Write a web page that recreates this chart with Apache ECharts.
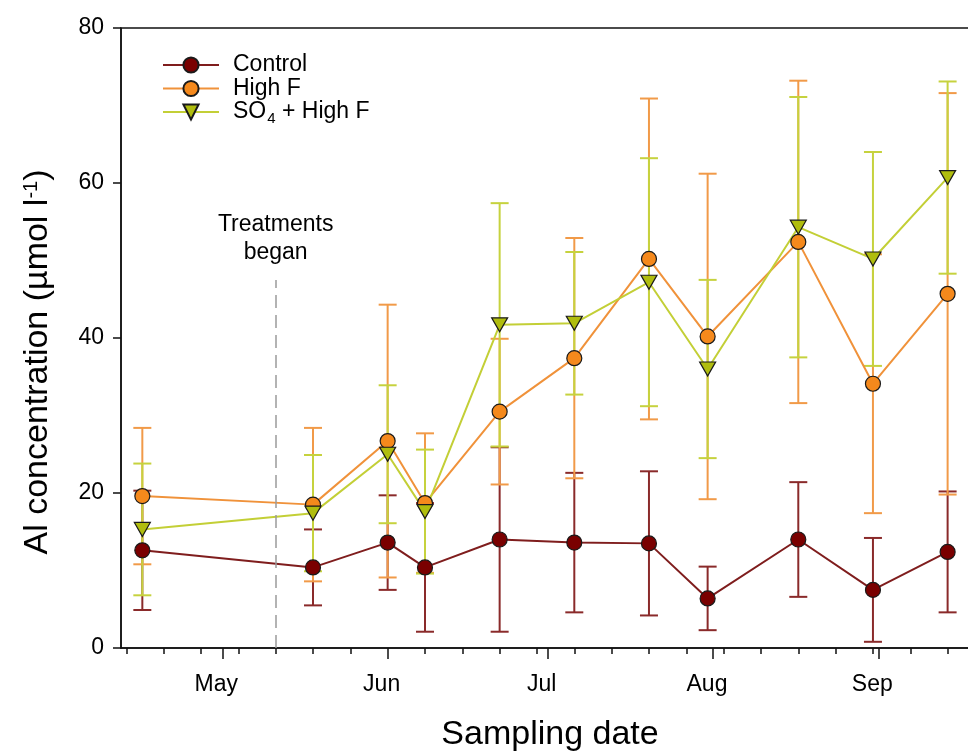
<!DOCTYPE html>
<html>
<head>
<meta charset="utf-8">
<script src="https://cdn.jsdelivr.net/npm/echarts@6/dist/echarts.min.js"></script>
<style>
  html, body { margin: 0; padding: 0; background: #fff; }
  #chart { width: 968px; height: 752px; }
</style>
</head>
<body>
<div id="chart"></div>
<script>
// Sampling dates (month-day) and treatment means with error bar half-widths
const sampleDates = ['04-16', '05-18', '06-01', '06-08', '06-22', '07-06', '07-20', '07-31', '08-17', '08-31', '09-14'];
const controlMean = [12.6, 10.4, 13.6, 10.4, 14.0, 13.6, 13.5, 6.4, 14.0, 7.5, 12.4];
const controlErr  = [7.7, 4.9, 6.1, 8.3, 11.9, 9.0, 9.3, 4.1, 7.4, 6.7, 7.8];
const highFMean   = [19.6, 18.5, 26.7, 18.7, 30.5, 37.4, 50.2, 40.2, 52.4, 34.1, 45.7];
const highFErr    = [8.8, 9.9, 17.6, 9.0, 9.4, 15.5, 20.7, 21.0, 20.8, 16.7, 25.9];
const so4Mean     = [15.3, 17.4, 25.0, 17.6, 41.7, 41.9, 47.2, 36.0, 54.3, 50.2, 60.7];
const so4Err      = [8.5, 7.5, 8.9, 8.0, 15.7, 9.2, 16.0, 11.5, 16.8, 13.8, 12.4];

const treatmentStart = '05-11';
const treatmentLineTop = 47.5;

const monthStarts = ['05-01', '06-01', '07-01', '08-01', '09-01'];
const monthNames  = ['May', 'Jun', 'Jul', 'Aug', 'Sep'];
const weekTickStart = '04-13';
const axisStart = '04-12';
const axisEnd = '09-22';

const yTicks = [0, 20, 40, 60, 80];

// day of year in a non-leap year
function dayOfYear(md) {
  const [m, d] = md.split('-').map(Number);
  return (Date.UTC(2001, m - 1, d) - Date.UTC(2001, 0, 1)) / 86400000 + 1;
}

const xMin = dayOfYear(axisStart);
const xMax = dayOfYear(axisEnd);
const sampleDays = sampleDates.map(dayOfYear);
const monthDays = monthStarts.map(dayOfYear);
const weekDays = [];
for (let d = dayOfYear(weekTickStart); d <= xMax; d += 7) weekDays.push(d);

const FONT = '"Liberation Sans", Arial, sans-serif';
const SMALL = 23;

const C_CONTROL = { line: '#7f1d1d', fill: '#7a0000', err: '#8a2a2a' };
const C_HIGHF   = { line: '#f0923a', fill: '#f5891c', err: '#f19a48' };
const C_SO4     = { line: '#c3cf36', fill: '#b0bd0e', err: '#c6d23e' };

function points(mean) { return sampleDays.map((d, i) => [d, mean[i]]); }
function bars(mean, err) { return sampleDays.map((d, i) => [d, mean[i] - err[i], mean[i] + err[i]]); }

function errorSeries(name, mean, err, color) {
  return {
    type: 'custom',
    name: name + ' error',
    xAxisIndex: 0,
    yAxisIndex: 0,
    silent: true,
    z: 2,
    encode: { x: 0, y: [1, 2] },
    data: bars(mean, err),
    renderItem: function (params, api) {
      const x = api.value(0);
      const lo = api.coord([x, api.value(1)]);
      const hi = api.coord([x, api.value(2)]);
      const w = 9;
      const style = { stroke: color, lineWidth: 2 };
      return {
        type: 'group',
        children: [
          { type: 'line', shape: { x1: hi[0], y1: hi[1], x2: lo[0], y2: lo[1] }, style: style },
          { type: 'line', shape: { x1: hi[0] - w, y1: hi[1], x2: hi[0] + w, y2: hi[1] }, style: style },
          { type: 'line', shape: { x1: lo[0] - w, y1: lo[1], x2: lo[0] + w, y2: lo[1] }, style: style }
        ]
      };
    }
  };
}

function lineSeries(name, mean, c, symbol, extra) {
  return Object.assign({
    type: 'line',
    name: name,
    xAxisIndex: 0,
    yAxisIndex: 0,
    data: points(mean),
    symbol: symbol,
    symbolSize: symbol === 'circle' ? 15 : [16, 14],
    symbolRotate: symbol === 'circle' ? 0 : 180,
    showAllSymbol: true,
    z: 3,
    lineStyle: { color: c.line, width: 2 },
    itemStyle: { color: c.fill, borderColor: '#1a1a1a', borderWidth: 1.2 },
    emphasis: { disabled: true }
  }, extra || {});
}

const chart = echarts.init(document.getElementById('chart'), null, { renderer: 'canvas' });

chart.setOption({
  animation: false,
  backgroundColor: '#fff',
  textStyle: { fontFamily: FONT },
  grid: {
    left: 121, top: 28, width: (xMax - xMin) * 5.333, height: 620,
    outerBoundsMode: 'none',
    containLabel: false,
    show: true, borderColor: '#111', borderWidth: 1.5, backgroundColor: 'transparent'
  },
  legend: {
    orient: 'vertical',
    left: 162,
    top: 53.5,
    padding: 0,
    itemWidth: 56,
    itemHeight: 19,
    itemGap: 0.5,
    selectedMode: false,
    data: ['Control', 'High F', 'SO4 + High F'],
    formatter: function (name) {
      if (name === 'SO4 + High F') return '{b|SO}{s|4}{b| + High F}';
      return '{b|' + name + '}';
    },
    textStyle: {
      padding: [0, 0, 0, 9],
      rich: {
        b: { fontSize: SMALL, fontFamily: FONT, color: '#000', lineHeight: 15 },
        s: { fontSize: 15, fontFamily: FONT, color: '#000', padding: [13, 0, 0, 1] }
      }
    }
  },
  xAxis: [
    {
      type: 'value', min: xMin, max: xMax, position: 'bottom',
      axisLine: { show: true, onZero: false, lineStyle: { color: '#111', width: 1.5 } },
      axisTick: { show: true, length: 6, customValues: weekDays, lineStyle: { color: '#111', width: 1.5 } },
      axisLabel: { show: false },
      splitLine: { show: false }
    },
    {
      type: 'value', min: xMin, max: xMax, position: 'bottom',
      axisLine: { show: false, onZero: false },
      axisTick: { show: true, length: 11, customValues: monthDays, lineStyle: { color: '#111', width: 1.5 } },
      axisLabel: {
        show: true, customValues: monthDays, margin: 25, fontSize: SMALL, color: '#000', fontFamily: FONT,
        padding: [0, 12, 0, 0],
        formatter: function (v) { const i = monthDays.indexOf(v); return i >= 0 ? monthNames[i] : ''; }
      },
      splitLine: { show: false }
    }
  ],
  yAxis: {
    type: 'value', min: yTicks[0], max: yTicks[yTicks.length - 1], interval: 20,
    axisLine: { show: true, onZero: false, lineStyle: { color: '#111', width: 1.5 } },
    axisTick: { show: true, length: 8, lineStyle: { color: '#111', width: 1.5 } },
    axisLabel: { fontSize: SMALL, color: '#000', margin: 17, fontFamily: FONT },
    splitLine: { show: false }
  },
  graphic: [
    {
      type: 'text',
      x: 550, y: 735,
      style: { text: 'Sampling date', font: '34px ' + FONT, fill: '#000', align: 'center', verticalAlign: 'middle' }
    },
    {
      type: 'text',
      x: 38, y: 362,
      rotation: Math.PI / 2,
      style: {
        text: 'Al concentration (\u00b5mol l{sup|-1})',
        font: '34px ' + FONT, fill: '#000', align: 'center', verticalAlign: 'middle',
        rich: { sup: { font: '20px ' + FONT, fill: '#000', padding: [0, 0, 14, 0] } }
      }
    }
  ],
  series: [
    errorSeries('Control', controlMean, controlErr, C_CONTROL.err),
    errorSeries('High F', highFMean, highFErr, C_HIGHF.err),
    errorSeries('SO4 + High F', so4Mean, so4Err, C_SO4.err),
    lineSeries('Control', controlMean, C_CONTROL, 'circle', {
      markLine: {
        silent: true,
        symbol: 'none',
        lineStyle: { color: '#9a9a9a', type: [13, 7], width: 1.5 },
        label: {
          show: true, position: 'end', formatter: 'Treatments\nbegan',
          fontSize: SMALL, color: '#000', lineHeight: 28, distance: 13, fontFamily: FONT
        },
        data: [[
          { coord: [dayOfYear(treatmentStart), 0] },
          { coord: [dayOfYear(treatmentStart), treatmentLineTop] }
        ]]
      }
    }),
    lineSeries('High F', highFMean, C_HIGHF, 'circle'),
    lineSeries('SO4 + High F', so4Mean, C_SO4, 'triangle')
  ]
});
</script>
</body>
</html>
